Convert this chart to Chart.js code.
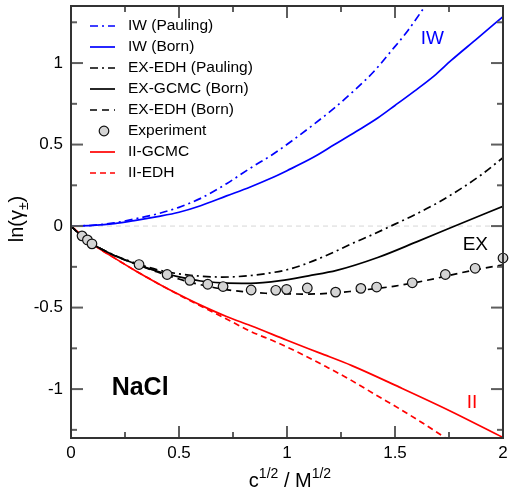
<!DOCTYPE html>
<html>
<head>
<meta charset="utf-8">
<script src="https://cdn.jsdelivr.net/npm/chart.js@4.4.1/dist/chart.umd.min.js"></script>
<style>
  html, body { margin: 0; padding: 0; background: #fff; }
</style>
</head>
<body>
<canvas id="gammaChart" width="509" height="496"></canvas>
<script>
// ln(gamma) vs sqrt(c) for NaCl
const xTickValues = [0, 0.25, 0.5, 0.75, 1, 1.25, 1.5, 1.75, 2];
const yTickValues = [-1.25, -1, -0.75, -0.5, -0.25, 0, 0.25, 0.5, 0.75, 1, 1.25];

const iwPaulingX = [0, 0.1, 0.2, 0.3, 0.4, 0.5, 0.6, 0.72, 0.83, 0.94, 1.03, 1.12, 1.22, 1.31, 1.4, 1.48, 1.56, 1.65];
const iwPaulingY = [0, 0.005, 0.02, 0.045, 0.075, 0.115, 0.17, 0.26, 0.355, 0.445, 0.53, 0.62, 0.725, 0.83, 0.945, 1.07, 1.2, 1.37];

const iwBornX = [0, 0.1, 0.2, 0.3, 0.4, 0.5, 0.6, 0.72, 0.83, 0.92, 1.0, 1.12, 1.22, 1.32, 1.42, 1.5, 1.59, 1.68, 1.76, 1.88, 2.0];
const iwBornY = [0, 0.004, 0.015, 0.035, 0.058, 0.085, 0.125, 0.185, 0.24, 0.29, 0.34, 0.42, 0.5, 0.58, 0.663, 0.74, 0.828, 0.92, 1.016, 1.15, 1.285];

const exEdhPaulingX = [0, 0.05, 0.1, 0.2, 0.3, 0.4, 0.5, 0.6, 0.7, 0.8, 0.9, 1.0, 1.1, 1.2, 1.3, 1.4, 1.5, 1.6, 1.7, 1.8, 1.9, 2.0];
const exEdhPaulingY = [0, -0.062, -0.11, -0.178, -0.228, -0.268, -0.293, -0.307, -0.313, -0.307, -0.292, -0.268, -0.225, -0.17, -0.108, -0.05, 0.012, 0.075, 0.145, 0.225, 0.315, 0.42];

const exGcmcBornX = [0, 0.05, 0.1, 0.2, 0.3, 0.4, 0.5, 0.6, 0.7, 0.83, 0.97, 1.1, 1.23, 1.42, 1.6, 1.78, 2.0];
const exGcmcBornY = [0, -0.062, -0.11, -0.18, -0.232, -0.277, -0.312, -0.337, -0.348, -0.351, -0.335, -0.305, -0.272, -0.193, -0.097, 0.002, 0.121];

const exEdhBornX = [0, 0.05, 0.1, 0.2, 0.3, 0.4, 0.5, 0.6, 0.7, 0.8, 0.9, 1.0, 1.1, 1.2, 1.3, 1.4, 1.5, 1.6, 1.7, 1.8, 1.9, 2.0];
const exEdhBornY = [0, -0.062, -0.11, -0.18, -0.233, -0.282, -0.325, -0.36, -0.386, -0.403, -0.412, -0.416, -0.417, -0.412, -0.4, -0.385, -0.368, -0.345, -0.318, -0.288, -0.262, -0.237];

const expX = [0.051, 0.076, 0.097, 0.315, 0.445, 0.55, 0.633, 0.704, 0.834, 0.948, 0.998, 1.094, 1.225, 1.342, 1.415, 1.58, 1.733, 1.871, 2.0];
const expY = [-0.06, -0.085, -0.109, -0.236, -0.297, -0.333, -0.357, -0.371, -0.392, -0.394, -0.388, -0.38, -0.405, -0.382, -0.374, -0.348, -0.297, -0.259, -0.196];

const iiGcmcX = [0, 0.05, 0.1, 0.2, 0.3, 0.4, 0.5, 0.6, 0.72, 0.83, 1.0, 1.15, 1.3, 1.52, 1.76, 2.0];
const iiGcmcY = [0, -0.055, -0.11, -0.195, -0.275, -0.35, -0.42, -0.485, -0.555, -0.61, -0.7, -0.778, -0.856, -0.988, -1.137, -1.297];

const iiEdhX = [0, 0.05, 0.1, 0.2, 0.3, 0.4, 0.5, 0.6, 0.72, 0.83, 0.95, 1.06, 1.18, 1.3, 1.41, 1.52, 1.63, 1.73, 1.76];
const iiEdhY = [0, -0.055, -0.11, -0.195, -0.275, -0.35, -0.422, -0.49, -0.57, -0.645, -0.712, -0.78, -0.862, -0.948, -1.035, -1.12, -1.21, -1.297, -1.325];

const FONT = "'Liberation Sans', Arial, Helvetica, sans-serif";

function pts(xs, ys) {
    return xs.map((x, i) => ({ x: x, y: ys[i] }));
}

function curve(label, xs, ys, color, dash) {
    return {
        label: label,
        data: pts(xs, ys),
        borderColor: color,
        borderWidth: 1.7,
        borderDash: dash,
        pointRadius: 0,
        fill: false,
        cubicInterpolationMode: 'monotone'
    };
}

// zero reference line behind the curves
const zeroLine = {
    id: 'zeroLine',
    beforeDatasetsDraw(chart) {
        const { ctx, chartArea: a, scales: { y } } = chart;
        const py = y.getPixelForValue(0);
        ctx.save();
        ctx.strokeStyle = '#d6d6d6';
        ctx.lineWidth = 1;
        ctx.setLineDash([5, 4]);
        ctx.beginPath();
        ctx.moveTo(a.left, py);
        ctx.lineTo(a.right, py);
        ctx.stroke();
        ctx.restore();
    }
};

// box frame with inward ticks on all four sides
const frameTicks = {
    id: 'frameTicks',
    afterDatasetsDraw(chart) {
        const { ctx, chartArea: a, scales: { x, y } } = chart;
        const seg = (x1, y1, x2, y2) => {
            ctx.beginPath();
            ctx.moveTo(x1, y1);
            ctx.lineTo(x2, y2);
            ctx.stroke();
        };
        ctx.save();
        ctx.strokeStyle = '#5e5e5e';
        ctx.lineWidth = 2;
        xTickValues.forEach(v => {
            const px = x.getPixelForValue(v);
            const len = v % 0.5 === 0 ? 12 : 6;
            seg(px, a.bottom, px, a.bottom - len);
            seg(px, a.top, px, a.top + len);
        });
        yTickValues.forEach(v => {
            const py = y.getPixelForValue(v);
            const len = v % 0.5 === 0 ? 12 : 6;
            seg(a.left, py, a.left + len, py);
            seg(a.right, py, a.right - len, py);
        });
        ctx.strokeStyle = '#333';
        ctx.strokeRect(a.left, a.top, a.right - a.left, a.bottom - a.top);
        ctx.restore();
    }
};

// axis titles, legend and labels inside the plot
const decorations = {
    id: 'decorations',
    afterDraw(chart) {
        const { ctx, scales: { x, y } } = chart;
        ctx.save();

        // x title: c^{1/2} / M^{1/2}
        const big = '20px ' + FONT, sup = '14px ' + FONT;
        const parts = [['c', big, 0], ['1/2', sup, -9], [' / M', big, 0], ['1/2', sup, -9]];
        let total = 0;
        parts.forEach(p => { ctx.font = p[1]; total += ctx.measureText(p[0]).width; });
        let cx = 290 - total / 2;
        ctx.fillStyle = '#000';
        ctx.textBaseline = 'alphabetic';
        ctx.textAlign = 'left';
        parts.forEach(p => {
            ctx.font = p[1];
            ctx.fillText(p[0], cx, 487 + p[2]);
            cx += ctx.measureText(p[0]).width;
        });

        // y title: ln(γ±)
        ctx.save();
        ctx.translate(23, 219);
        ctx.rotate(-Math.PI / 2);
        const yparts = [['ln(γ', big, 0], ['±', sup, 5], [')', big, 0]];
        total = 0;
        yparts.forEach(p => { ctx.font = p[1]; total += ctx.measureText(p[0]).width; });
        cx = -total / 2;
        yparts.forEach(p => {
            ctx.font = p[1];
            ctx.fillText(p[0], cx, p[2]);
            cx += ctx.measureText(p[0]).width;
        });
        ctx.restore();

        // legend
        ctx.font = '15.5px ' + FONT;
        ctx.textBaseline = 'middle';
        chart.data.datasets.forEach((ds, i) => {
            const ry = 26 + i * 21;
            if (ds.showLine === false) {
                ctx.beginPath();
                ctx.arc(104, ry, 4.8, 0, Math.PI * 2);
                ctx.fillStyle = ds.pointBackgroundColor;
                ctx.fill();
                ctx.lineWidth = 1.2;
                ctx.strokeStyle = ds.pointBorderColor;
                ctx.stroke();
            } else {
                ctx.beginPath();
                ctx.setLineDash(ds.borderDash || []);
                ctx.strokeStyle = ds.borderColor;
                ctx.lineWidth = ds.borderWidth;
                ctx.moveTo(90, ry);
                ctx.lineTo(115, ry);
                ctx.stroke();
                ctx.setLineDash([]);
            }
            ctx.fillStyle = '#000';
            ctx.fillText(ds.label, 128, ry);
        });

        // group labels
        const notes = [
            ['IW', 1.673, 1.15, '#0000ff', '19px ' + FONT],
            ['EX', 1.872, -0.115, '#000', '19px ' + FONT],
            ['II', 1.857, -1.085, '#ff0000', '19px ' + FONT],
            ['NaCl', 0.32, -0.994, '#000', 'bold 25px ' + FONT]
        ];
        ctx.textAlign = 'center';
        notes.forEach(n => {
            ctx.font = n[4];
            ctx.fillStyle = n[3];
            ctx.fillText(n[0], x.getPixelForValue(n[1]), y.getPixelForValue(n[2]));
        });
        ctx.restore();
    }
};

const ctx = document.getElementById('gammaChart').getContext('2d');
const gammaChart = new Chart(ctx, {
    type: 'line',
    data: {
        datasets: [
            curve('IW (Pauling)', iwPaulingX, iwPaulingY, '#0000ff', [8, 4, 2, 4]),
            curve('IW (Born)', iwBornX, iwBornY, '#0000ff', []),
            curve('EX-EDH (Pauling)', exEdhPaulingX, exEdhPaulingY, '#000', [8, 4, 2, 4]),
            curve('EX-GCMC (Born)', exGcmcBornX, exGcmcBornY, '#000', []),
            curve('EX-EDH (Born)', exEdhBornX, exEdhBornY, '#000', [7, 5]),
            {
                label: 'Experiment',
                data: pts(expX, expY),
                showLine: false,
                pointRadius: 4.8,
                pointBorderWidth: 1.2,
                pointBackgroundColor: '#d4d4d4',
                pointBorderColor: '#111',
                clip: false,
                order: -1
            },
            curve('II-GCMC', iiGcmcX, iiGcmcY, '#ff0000', []),
            curve('II-EDH', iiEdhX, iiEdhY, '#ff0000', [6, 4])
        ]
    },
    options: {
        responsive: false,
        animation: false,
        layout: { padding: { left: 0, right: 6, top: 0, bottom: 0 } },
        plugins: {
            legend: { display: false },
            tooltip: { enabled: false }
        },
        scales: {
            x: {
                type: 'linear',
                min: 0,
                max: 2,
                grid: { display: false, drawTicks: false },
                border: { display: false },
                afterBuildTicks: s => { s.ticks = xTickValues.map(v => ({ value: v })); },
                afterFit: s => { s.height = 58; s.paddingLeft = 0; s.paddingRight = 0; },
                ticks: {
                    autoSkip: false,
                    maxRotation: 0,
                    padding: 5,
                    color: '#000',
                    font: { family: FONT, size: 17 },
                    callback: v => (v % 0.5 === 0 ? String(v) : '')
                }
            },
            y: {
                type: 'linear',
                min: -1.3,
                max: 1.35,
                grid: { display: false, drawTicks: false },
                border: { display: false },
                afterBuildTicks: s => { s.ticks = yTickValues.map(v => ({ value: v })); },
                afterFit: s => { s.width = 71; s.paddingTop = 0; s.paddingBottom = 0; },
                ticks: {
                    autoSkip: false,
                    padding: 8,
                    color: '#000',
                    font: { family: FONT, size: 17 },
                    callback: v => (v % 0.5 === 0 ? String(v) : '')
                }
            }
        }
    },
    plugins: [zeroLine, frameTicks, decorations]
});
</script>
</body>
</html>
